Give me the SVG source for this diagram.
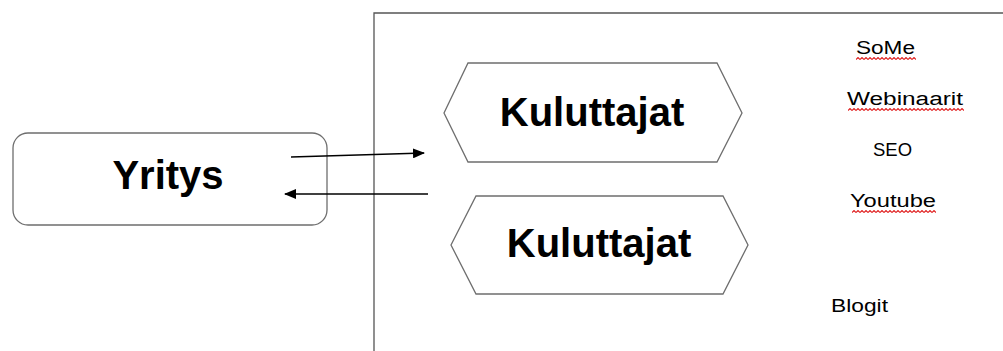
<svg xmlns="http://www.w3.org/2000/svg" width="1003" height="351" viewBox="0 0 1003 351">
<defs>
<style>
.shape{fill:#fff;stroke:#6e6e6e;stroke-width:1.3}
.big{font-family:"Liberation Sans",Arial,sans-serif;font-weight:bold;font-size:40px;fill:#000;text-anchor:middle}
.small{font-family:"Liberation Sans",Arial,sans-serif;font-size:18px;fill:#000}
.conn{stroke:#000;stroke-width:1.3;fill:none}
</style>
<marker id="ah" viewBox="0 0 12 10" refX="11" refY="5" markerWidth="12" markerHeight="10" markerUnits="userSpaceOnUse" orient="auto">
<path d="M0,0 L12,5 L0,10 z" fill="#000"/>
</marker>
<pattern id="wave" width="4" height="3" patternUnits="userSpaceOnUse">
<path d="M0,2.5 L2,0.5 L4,2.5" stroke="#e02020" fill="none" stroke-width="1.1"/>
</pattern>
</defs>
<rect width="1003" height="351" fill="#fff"/>
<g id="frame">
<path d="M374,351 L374,13 L1010,13" fill="none" stroke="#555" stroke-width="1.3"/>
</g>
<g id="yritys">
<rect class="shape" x="13" y="133" width="314" height="92" rx="15" ry="15"/>
<text class="big" x="168" y="189" font-size="39">Yritys</text>
</g>
<g id="kuluttajat1">
<polygon class="shape" points="444,113 468,63 717,63 742,113 717,162 468,162"/>
<text class="big" x="592" y="126">Kuluttajat</text>
</g>
<g id="kuluttajat2">
<polygon class="shape" points="451,245 476,196 723,196 748,245 723,294 476,294"/>
<text class="big" x="599" y="257">Kuluttajat</text>
</g>
<g id="connectors">
<line class="conn" x1="291" y1="157" x2="424" y2="153" marker-end="url(#ah)"/>
<line class="conn" x1="428" y1="194" x2="285" y2="194" marker-end="url(#ah)"/>
</g>
<g id="channels">
<text class="small" x="856" y="54" textLength="59" lengthAdjust="spacingAndGlyphs">SoMe</text>
<rect x="856" y="57" width="60" height="3" fill="url(#wave)"/>
<text class="small" x="847" y="105" textLength="116" lengthAdjust="spacingAndGlyphs">Webinaarit</text>
<rect x="848" y="108" width="116" height="3" fill="url(#wave)"/>
<text class="small" x="873" y="156" textLength="39" lengthAdjust="spacingAndGlyphs">SEO</text>
<text class="small" x="850" y="207" textLength="86" lengthAdjust="spacingAndGlyphs">Youtube</text>
<rect x="852" y="210" width="84" height="3" fill="url(#wave)"/>
<text class="small" x="831" y="312" textLength="57" lengthAdjust="spacingAndGlyphs">Blogit</text>
</g>
</svg>
